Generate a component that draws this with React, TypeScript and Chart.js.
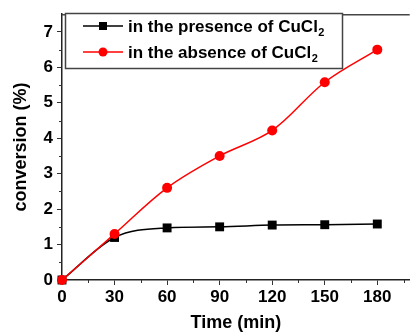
import React, { useEffect, useRef } from 'react';
import { Chart, registerables } from 'chart.js';

Chart.register(...registerables);

const times = [0, 30, 60, 90, 120, 150, 180];
const presence = [0, 1.2, 1.47, 1.5, 1.55, 1.56, 1.58];
const absence = [0, 1.3, 2.6, 3.5, 4.22, 5.58, 6.5];
const xTicks = [0, 30, 60, 90, 120, 150, 180];
const yTicks = [0, 1, 2, 3, 4, 5, 6, 7];
const legendLabels = ['in the presence of CuCl', 'in the absence of CuCl'];
const FONT = '"Liberation Sans", Arial, sans-serif';

const framePlugin = {
  id: 'frame',
  afterDraw(chart: any) {
    const { ctx, chartArea: a, scales } = chart;
    const xs = scales.x;
    const ys = scales.y;
    ctx.save();
    // top frame line
    ctx.strokeStyle = '#444';
    ctx.lineWidth = 1.5;
    ctx.beginPath();
    ctx.moveTo(a.left, a.top + 0.5);
    ctx.lineTo(a.right, a.top + 0.5);
    ctx.stroke();
    // minor ticks
    ctx.strokeStyle = '#333';
    ctx.lineWidth = 1;
    ctx.beginPath();
    for (let v = 15; v < xs.max; v += 30) {
      const px = Math.round(xs.getPixelForValue(v)) + 0.5;
      ctx.moveTo(px, a.bottom);
      ctx.lineTo(px, a.bottom + 3);
    }
    for (let v = 0.5; v < ys.max; v += 1) {
      const py = Math.round(ys.getPixelForValue(v)) + 0.5;
      ctx.moveTo(a.left, py);
      ctx.lineTo(a.left - 3, py);
    }
    ctx.stroke();

    // legend
    const bx = 65, by = 13, bw = 277, bh = 55;
    ctx.fillStyle = '#fff';
    ctx.fillRect(bx, by, bw, bh);
    ctx.strokeStyle = '#444';
    ctx.lineWidth = 1.5;
    ctx.strokeRect(bx + 0.5, by + 0.5, bw, bh);
    const rows = [
      { y: 26, color: '#000', square: true, label: legendLabels[0] },
      { y: 52, color: '#ff0000', square: false, label: legendLabels[1] },
    ];
    rows.forEach((r) => {
      ctx.strokeStyle = r.color;
      ctx.fillStyle = r.color;
      ctx.lineWidth = 1.5;
      ctx.beginPath();
      ctx.moveTo(83, r.y);
      ctx.lineTo(123, r.y);
      ctx.stroke();
      if (r.square) {
        ctx.fillRect(99, r.y - 4, 8, 8);
      } else {
        ctx.beginPath();
        ctx.arc(103, r.y, 4.5, 0, Math.PI * 2);
        ctx.fill();
      }
      ctx.fillStyle = '#000';
      ctx.font = `bold 17px ${FONT}`;
      ctx.textBaseline = 'alphabetic';
      ctx.textAlign = 'left';
      ctx.fillText(r.label, 128, r.y + 6);
      const w = ctx.measureText(r.label).width;
      ctx.font = `bold 11px ${FONT}`;
      ctx.fillText('2', 128 + w + 0.5, r.y + 10);
    });
    ctx.restore();
  },
};

export default function App() {
  const ref = useRef<HTMLCanvasElement>(null);
  useEffect(() => {
    document.body.style.margin = '0';
    const canvas = ref.current!;
    const chart = new Chart(canvas, {
      type: 'line',
      data: {
        datasets: [
          {
            label: legendLabels[1],
            data: times.map((t, i) => ({ x: t, y: absence[i] })),
            borderColor: '#ff0000',
            backgroundColor: '#ff0000',
            borderWidth: 1.5,
            pointStyle: 'circle',
            pointRadius: 5,
            pointBorderWidth: 0,
            tension: 0.35,
            clip: false,
          },
          {
            label: legendLabels[0],
            data: times.map((t, i) => ({ x: t, y: presence[i] })),
            borderColor: '#000',
            backgroundColor: '#000',
            borderWidth: 1.5,
            pointStyle: 'rect',
            pointRadius: 6.3,
            pointBorderWidth: 0,
            cubicInterpolationMode: 'monotone',
            clip: false,
          },
        ],
      },
      options: {
        animation: false,
        responsive: false,
        layout: { padding: { top: 10, right: 0, left: 0, bottom: 0 } },
        plugins: { legend: { display: false }, tooltip: { enabled: false } },
        scales: {
          x: {
            type: 'linear',
            min: 0,
            max: 198.5,
            afterBuildTicks: (s: any) => {
              s.ticks = xTicks.map((v) => ({ value: v }));
            },
            afterFit: (s: any) => {
              s.height = 54;
            },
            grid: { display: true, drawOnChartArea: false, tickLength: 5, color: '#333' },
            border: { color: '#222', width: 1.5 },
            ticks: { color: '#000', font: { family: FONT, size: 17, weight: 'bold' }, padding: 2, maxRotation: 0 },
            title: {
              display: true,
              text: 'Time (min)',
              color: '#000',
              font: { family: FONT, size: 18, weight: 'bold' },
              padding: { top: 4, bottom: 0 },
            },
          },
          y: {
            type: 'linear',
            min: 0,
            max: 7.5,
            afterBuildTicks: (s: any) => {
              s.ticks = yTicks.map((v) => ({ value: v }));
            },
            afterFit: (s: any) => {
              s.width = 62;
            },
            grid: { display: true, drawOnChartArea: false, tickLength: 5, color: '#333' },
            border: { color: '#222', width: 1.5 },
            ticks: { color: '#000', font: { family: FONT, size: 17, weight: 'bold' }, padding: 4 },
            title: {
              display: true,
              text: 'conversion (%)',
              color: '#000',
              font: { family: FONT, size: 18, weight: 'bold' },
              padding: { top: 10, bottom: 0 },
            },
          },
        },
      },
      plugins: [framePlugin],
    } as any);
    return () => chart.destroy();
  }, []);
  return (
    <div style={{ width: 416, height: 334 }}>
      <canvas ref={ref} width={416} height={334} style={{ display: 'block' }} />
    </div>
  );
}
